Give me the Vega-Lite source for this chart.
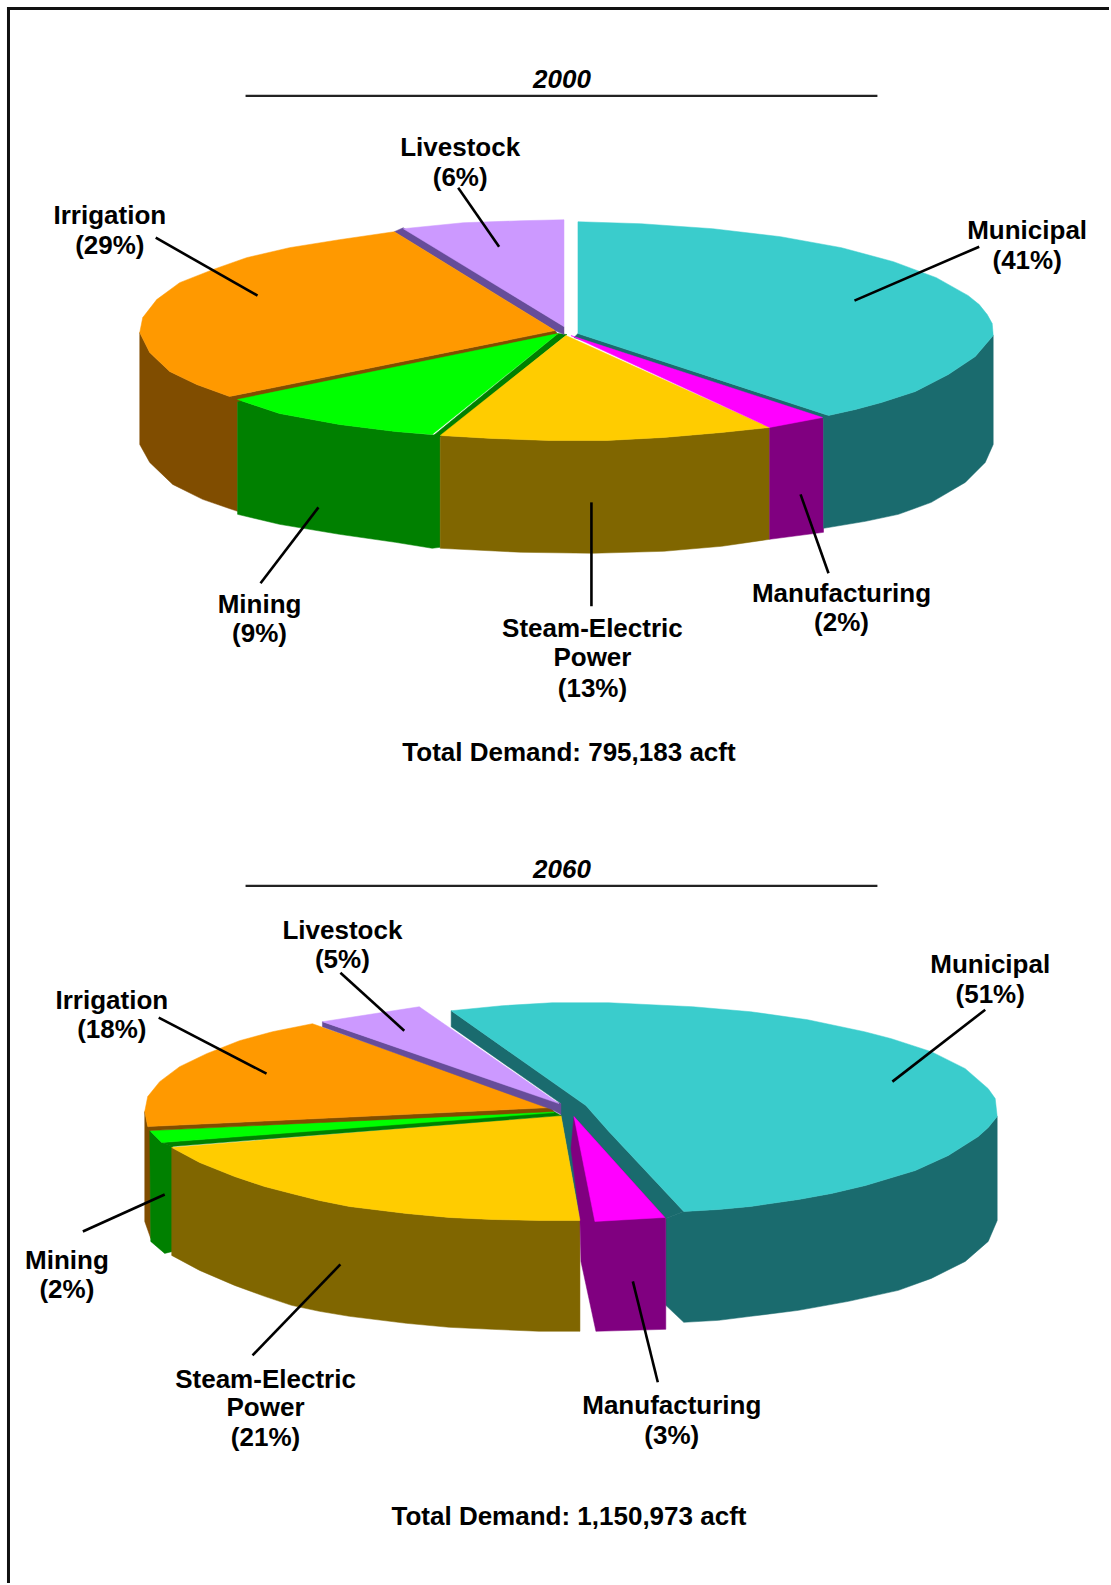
{"$schema":"https://vega.github.io/schema/vega-lite/v6.json","width":1111,"height":1585,"padding":0,"autosize":{"type":"fit","contains":"padding"},"background":"white","view":{"stroke":null},
"datasets":{
"faces":[
{"year":2000,"part":"Irrigation side","x":140,"y":333},{"year":2000,"part":"Irrigation side","x":150,"y":353},{"year":2000,"part":"Irrigation side","x":170,"y":372},{"year":2000,"part":"Irrigation side","x":197,"y":385},{"year":2000,"part":"Irrigation side","x":230,"y":397},{"year":2000,"part":"Irrigation side","x":238,"y":400},{"year":2000,"part":"Irrigation side","x":238,"y":512},{"year":2000,"part":"Irrigation side","x":235,"y":511},{"year":2000,"part":"Irrigation side","x":203,"y":500},{"year":2000,"part":"Irrigation side","x":173,"y":485},{"year":2000,"part":"Irrigation side","x":150,"y":463},{"year":2000,"part":"Irrigation side","x":140,"y":445},
{"year":2000,"part":"Mining side","x":238,"y":400},{"year":2000,"part":"Mining side","x":280,"y":414},{"year":2000,"part":"Mining side","x":340,"y":425},{"year":2000,"part":"Mining side","x":396,"y":432},{"year":2000,"part":"Mining side","x":441,"y":436},{"year":2000,"part":"Mining side","x":441,"y":548},{"year":2000,"part":"Mining side","x":433,"y":549},{"year":2000,"part":"Mining side","x":396,"y":543},{"year":2000,"part":"Mining side","x":340,"y":535},{"year":2000,"part":"Mining side","x":280,"y":525},{"year":2000,"part":"Mining side","x":238,"y":515},
{"year":2000,"part":"Steam side","x":441,"y":436},{"year":2000,"part":"Steam side","x":493,"y":439},{"year":2000,"part":"Steam side","x":550,"y":441},{"year":2000,"part":"Steam side","x":608,"y":441},{"year":2000,"part":"Steam side","x":665,"y":438},{"year":2000,"part":"Steam side","x":723,"y":433},{"year":2000,"part":"Steam side","x":771,"y":428},{"year":2000,"part":"Steam side","x":771,"y":540},{"year":2000,"part":"Steam side","x":723,"y":547},{"year":2000,"part":"Steam side","x":665,"y":552},{"year":2000,"part":"Steam side","x":594,"y":554},{"year":2000,"part":"Steam side","x":522,"y":553},{"year":2000,"part":"Steam side","x":441,"y":549},
{"year":2000,"part":"Manufacturing side","x":771,"y":427},{"year":2000,"part":"Manufacturing side","x":825,"y":417},{"year":2000,"part":"Manufacturing side","x":825,"y":533},{"year":2000,"part":"Manufacturing side","x":771,"y":540},
{"year":2000,"part":"Municipal side","x":995,"y":336},{"year":2000,"part":"Municipal side","x":977,"y":357},{"year":2000,"part":"Municipal side","x":950,"y":375},{"year":2000,"part":"Municipal side","x":917,"y":392},{"year":2000,"part":"Municipal side","x":883,"y":403},{"year":2000,"part":"Municipal side","x":857,"y":410},{"year":2000,"part":"Municipal side","x":830,"y":416},{"year":2000,"part":"Municipal side","x":825,"y":417},{"year":2000,"part":"Municipal side","x":825,"y":529},{"year":2000,"part":"Municipal side","x":867,"y":522},{"year":2000,"part":"Municipal side","x":900,"y":515},{"year":2000,"part":"Municipal side","x":933,"y":503},{"year":2000,"part":"Municipal side","x":967,"y":483},{"year":2000,"part":"Municipal side","x":987,"y":463},{"year":2000,"part":"Municipal side","x":995,"y":445},
{"year":2000,"part":"Municipal wall","x":579,"y":334},{"year":2000,"part":"Municipal wall","x":830,"y":416},{"year":2000,"part":"Municipal wall","x":825,"y":419},{"year":2000,"part":"Municipal wall","x":575,"y":338},
{"year":2000,"part":"Mining wall","x":568,"y":335},{"year":2000,"part":"Mining wall","x":441,"y":437},{"year":2000,"part":"Mining wall","x":433,"y":437},{"year":2000,"part":"Mining wall","x":559,"y":334},
{"year":2000,"part":"Irrigation wall","x":556,"y":331},{"year":2000,"part":"Irrigation wall","x":230,"y":397},{"year":2000,"part":"Irrigation wall","x":238,"y":402},{"year":2000,"part":"Irrigation wall","x":559,"y":335},
{"year":2000,"part":"Livestock wall","x":395,"y":232},{"year":2000,"part":"Livestock wall","x":404,"y":228},{"year":2000,"part":"Livestock wall","x":565,"y":327},{"year":2000,"part":"Livestock wall","x":565,"y":335},{"year":2000,"part":"Livestock wall","x":556,"y":331},
{"year":2000,"part":"Municipal top","x":579,"y":222},{"year":2000,"part":"Municipal top","x":642,"y":224},{"year":2000,"part":"Municipal top","x":714,"y":229},{"year":2000,"part":"Municipal top","x":782,"y":237},{"year":2000,"part":"Municipal top","x":843,"y":248},{"year":2000,"part":"Municipal top","x":895,"y":262},{"year":2000,"part":"Municipal top","x":938,"y":278},{"year":2000,"part":"Municipal top","x":970,"y":296},{"year":2000,"part":"Municipal top","x":981,"y":305},{"year":2000,"part":"Municipal top","x":989,"y":315},{"year":2000,"part":"Municipal top","x":994,"y":324},{"year":2000,"part":"Municipal top","x":995,"y":336},{"year":2000,"part":"Municipal top","x":977,"y":357},{"year":2000,"part":"Municipal top","x":950,"y":375},{"year":2000,"part":"Municipal top","x":917,"y":392},{"year":2000,"part":"Municipal top","x":883,"y":403},{"year":2000,"part":"Municipal top","x":857,"y":410},{"year":2000,"part":"Municipal top","x":830,"y":416},{"year":2000,"part":"Municipal top","x":579,"y":334},
{"year":2000,"part":"Steam top","x":567,"y":336},{"year":2000,"part":"Steam top","x":771,"y":428},{"year":2000,"part":"Steam top","x":723,"y":433},{"year":2000,"part":"Steam top","x":665,"y":438},{"year":2000,"part":"Steam top","x":608,"y":441},{"year":2000,"part":"Steam top","x":550,"y":441},{"year":2000,"part":"Steam top","x":493,"y":439},{"year":2000,"part":"Steam top","x":441,"y":436},
{"year":2000,"part":"Manufacturing top","x":572,"y":336},{"year":2000,"part":"Manufacturing top","x":824,"y":418},{"year":2000,"part":"Manufacturing top","x":771,"y":428},
{"year":2000,"part":"Mining top","x":559,"y":334},{"year":2000,"part":"Mining top","x":433,"y":435},{"year":2000,"part":"Mining top","x":396,"y":432},{"year":2000,"part":"Mining top","x":340,"y":425},{"year":2000,"part":"Mining top","x":280,"y":414},{"year":2000,"part":"Mining top","x":238,"y":400},
{"year":2000,"part":"Irrigation top","x":556,"y":331},{"year":2000,"part":"Irrigation top","x":230,"y":397},{"year":2000,"part":"Irrigation top","x":197,"y":385},{"year":2000,"part":"Irrigation top","x":170,"y":372},{"year":2000,"part":"Irrigation top","x":150,"y":353},{"year":2000,"part":"Irrigation top","x":140,"y":333},{"year":2000,"part":"Irrigation top","x":143,"y":318},{"year":2000,"part":"Irrigation top","x":157,"y":300},{"year":2000,"part":"Irrigation top","x":180,"y":283},{"year":2000,"part":"Irrigation top","x":213,"y":270},{"year":2000,"part":"Irrigation top","x":247,"y":258},{"year":2000,"part":"Irrigation top","x":290,"y":248},{"year":2000,"part":"Irrigation top","x":340,"y":240},{"year":2000,"part":"Irrigation top","x":395,"y":232},
{"year":2000,"part":"Livestock top","x":565,"y":327},{"year":2000,"part":"Livestock top","x":565,"y":220},{"year":2000,"part":"Livestock top","x":522,"y":221},{"year":2000,"part":"Livestock top","x":464,"y":223},{"year":2000,"part":"Livestock top","x":404,"y":229},
{"year":2060,"part":"Irrigation side","x":145,"y":1113},{"year":2060,"part":"Irrigation side","x":148,"y":1128},{"year":2060,"part":"Irrigation side","x":151,"y":1132},{"year":2060,"part":"Irrigation side","x":151,"y":1240},{"year":2060,"part":"Irrigation side","x":145,"y":1223},
{"year":2060,"part":"Mining side","x":150,"y":1132},{"year":2060,"part":"Mining side","x":162,"y":1144},{"year":2060,"part":"Mining side","x":173,"y":1148},{"year":2060,"part":"Mining side","x":173,"y":1253},{"year":2060,"part":"Mining side","x":165,"y":1255},{"year":2060,"part":"Mining side","x":151,"y":1243},
{"year":2060,"part":"Steam side","x":172,"y":1149},{"year":2060,"part":"Steam side","x":200,"y":1164},{"year":2060,"part":"Steam side","x":235,"y":1178},{"year":2060,"part":"Steam side","x":265,"y":1188},{"year":2060,"part":"Steam side","x":292,"y":1195},{"year":2060,"part":"Steam side","x":320,"y":1202},{"year":2060,"part":"Steam side","x":350,"y":1208},{"year":2060,"part":"Steam side","x":407,"y":1215},{"year":2060,"part":"Steam side","x":450,"y":1219},{"year":2060,"part":"Steam side","x":493,"y":1221},{"year":2060,"part":"Steam side","x":540,"y":1222},{"year":2060,"part":"Steam side","x":581,"y":1222},{"year":2060,"part":"Steam side","x":581,"y":1333},{"year":2060,"part":"Steam side","x":540,"y":1333},{"year":2060,"part":"Steam side","x":493,"y":1331},{"year":2060,"part":"Steam side","x":450,"y":1329},{"year":2060,"part":"Steam side","x":407,"y":1325},{"year":2060,"part":"Steam side","x":350,"y":1318},{"year":2060,"part":"Steam side","x":320,"y":1313},{"year":2060,"part":"Steam side","x":292,"y":1307},{"year":2060,"part":"Steam side","x":265,"y":1298},{"year":2060,"part":"Steam side","x":235,"y":1287},{"year":2060,"part":"Steam side","x":200,"y":1272},{"year":2060,"part":"Steam side","x":172,"y":1257},
{"year":2060,"part":"Municipal side","x":999,"y":1118},{"year":2060,"part":"Municipal side","x":990,"y":1129},{"year":2060,"part":"Municipal side","x":980,"y":1138},{"year":2060,"part":"Municipal side","x":950,"y":1157},{"year":2060,"part":"Municipal side","x":917,"y":1172},{"year":2060,"part":"Municipal side","x":867,"y":1187},{"year":2060,"part":"Municipal side","x":833,"y":1195},{"year":2060,"part":"Municipal side","x":800,"y":1201},{"year":2060,"part":"Municipal side","x":752,"y":1208},{"year":2060,"part":"Municipal side","x":720,"y":1211},{"year":2060,"part":"Municipal side","x":685,"y":1213},{"year":2060,"part":"Municipal side","x":667,"y":1220},{"year":2060,"part":"Municipal side","x":667,"y":1307},{"year":2060,"part":"Municipal side","x":685,"y":1324},{"year":2060,"part":"Municipal side","x":720,"y":1322},{"year":2060,"part":"Municipal side","x":752,"y":1318},{"year":2060,"part":"Municipal side","x":800,"y":1312},{"year":2060,"part":"Municipal side","x":850,"y":1303},{"year":2060,"part":"Municipal side","x":900,"y":1292},{"year":2060,"part":"Municipal side","x":933,"y":1280},{"year":2060,"part":"Municipal side","x":967,"y":1263},{"year":2060,"part":"Municipal side","x":990,"y":1243},{"year":2060,"part":"Municipal side","x":999,"y":1222},
{"year":2060,"part":"Municipal wall","x":452,"y":1012},{"year":2060,"part":"Municipal wall","x":587,"y":1107},{"year":2060,"part":"Municipal wall","x":610,"y":1133},{"year":2060,"part":"Municipal wall","x":685,"y":1213},{"year":2060,"part":"Municipal wall","x":667,"y":1220},{"year":2060,"part":"Municipal wall","x":575,"y":1120},{"year":2060,"part":"Municipal wall","x":581,"y":1222},{"year":2060,"part":"Municipal wall","x":562,"y":1117},{"year":2060,"part":"Municipal wall","x":562,"y":1105},{"year":2060,"part":"Municipal wall","x":452,"y":1028},
{"year":2060,"part":"Manufacturing side","x":575,"y":1118},{"year":2060,"part":"Manufacturing side","x":667,"y":1220},{"year":2060,"part":"Manufacturing side","x":667,"y":1331},{"year":2060,"part":"Manufacturing side","x":597,"y":1333},{"year":2060,"part":"Manufacturing side","x":582,"y":1263},{"year":2060,"part":"Manufacturing side","x":581,"y":1222},{"year":2060,"part":"Manufacturing side","x":572,"y":1150},
{"year":2060,"part":"Manufacturing top","x":575,"y":1118},{"year":2060,"part":"Manufacturing top","x":666,"y":1219},{"year":2060,"part":"Manufacturing top","x":596,"y":1223},
{"year":2060,"part":"Steam top","x":562,"y":1117},{"year":2060,"part":"Steam top","x":581,"y":1222},{"year":2060,"part":"Steam top","x":540,"y":1222},{"year":2060,"part":"Steam top","x":493,"y":1221},{"year":2060,"part":"Steam top","x":450,"y":1219},{"year":2060,"part":"Steam top","x":407,"y":1215},{"year":2060,"part":"Steam top","x":350,"y":1208},{"year":2060,"part":"Steam top","x":320,"y":1202},{"year":2060,"part":"Steam top","x":292,"y":1195},{"year":2060,"part":"Steam top","x":265,"y":1188},{"year":2060,"part":"Steam top","x":235,"y":1178},{"year":2060,"part":"Steam top","x":200,"y":1164},{"year":2060,"part":"Steam top","x":172,"y":1149},
{"year":2060,"part":"Mining wall","x":162,"y":1144},{"year":2060,"part":"Mining wall","x":172,"y":1148},{"year":2060,"part":"Mining wall","x":562,"y":1117},{"year":2060,"part":"Mining wall","x":555,"y":1113},
{"year":2060,"part":"Mining top","x":150,"y":1132},{"year":2060,"part":"Mining top","x":162,"y":1144},{"year":2060,"part":"Mining top","x":555,"y":1114},{"year":2060,"part":"Mining top","x":553,"y":1112},
{"year":2060,"part":"Irrigation wall","x":148,"y":1128},{"year":2060,"part":"Irrigation wall","x":150,"y":1132},{"year":2060,"part":"Irrigation wall","x":555,"y":1113},{"year":2060,"part":"Irrigation wall","x":552,"y":1109},
{"year":2060,"part":"Irrigation top","x":552,"y":1109},{"year":2060,"part":"Irrigation top","x":148,"y":1128},{"year":2060,"part":"Irrigation top","x":145,"y":1113},{"year":2060,"part":"Irrigation top","x":148,"y":1098},{"year":2060,"part":"Irrigation top","x":160,"y":1083},{"year":2060,"part":"Irrigation top","x":180,"y":1068},{"year":2060,"part":"Irrigation top","x":207,"y":1055},{"year":2060,"part":"Irrigation top","x":240,"y":1042},{"year":2060,"part":"Irrigation top","x":273,"y":1033},{"year":2060,"part":"Irrigation top","x":313,"y":1025},
{"year":2060,"part":"Livestock wall","x":323,"y":1023},{"year":2060,"part":"Livestock wall","x":323,"y":1028},{"year":2060,"part":"Livestock wall","x":553,"y":1111},{"year":2060,"part":"Livestock wall","x":562,"y":1116},{"year":2060,"part":"Livestock wall","x":562,"y":1105},
{"year":2060,"part":"Livestock top","x":323,"y":1023},{"year":2060,"part":"Livestock top","x":420,"y":1008},{"year":2060,"part":"Livestock top","x":560,"y":1105},
{"year":2060,"part":"Municipal top","x":452,"y":1012},{"year":2060,"part":"Municipal top","x":503,"y":1007},{"year":2060,"part":"Municipal top","x":553,"y":1004},{"year":2060,"part":"Municipal top","x":610,"y":1004},{"year":2060,"part":"Municipal top","x":694,"y":1008},{"year":2060,"part":"Municipal top","x":752,"y":1013},{"year":2060,"part":"Municipal top","x":809,"y":1021},{"year":2060,"part":"Municipal top","x":866,"y":1033},{"year":2060,"part":"Municipal top","x":893,"y":1040},{"year":2060,"part":"Municipal top","x":933,"y":1053},{"year":2060,"part":"Municipal top","x":967,"y":1070},{"year":2060,"part":"Municipal top","x":990,"y":1090},{"year":2060,"part":"Municipal top","x":997,"y":1100},{"year":2060,"part":"Municipal top","x":999,"y":1118},{"year":2060,"part":"Municipal top","x":990,"y":1129},{"year":2060,"part":"Municipal top","x":980,"y":1138},{"year":2060,"part":"Municipal top","x":950,"y":1157},{"year":2060,"part":"Municipal top","x":917,"y":1172},{"year":2060,"part":"Municipal top","x":867,"y":1187},{"year":2060,"part":"Municipal top","x":833,"y":1195},{"year":2060,"part":"Municipal top","x":800,"y":1201},{"year":2060,"part":"Municipal top","x":752,"y":1208},{"year":2060,"part":"Municipal top","x":720,"y":1211},{"year":2060,"part":"Municipal top","x":685,"y":1213},{"year":2060,"part":"Municipal top","x":610,"y":1133},{"year":2060,"part":"Municipal top","x":587,"y":1107}
],
"rules":[
{"kind":"frame","x":8.5,"y":7,"x2":8.5,"y2":1585},{"kind":"frame","x":7,"y":8.5,"x2":1111,"y2":8.5},
{"kind":"title","x":246,"y":96,"x2":879,"y2":96},{"kind":"title","x":246,"y":887,"x2":879,"y2":887},
{"kind":"leader","x":459,"y":188,"x2":500,"y2":247},{"kind":"leader","x":156,"y":238,"x2":258,"y2":296},{"kind":"leader","x":981,"y":247,"x2":856,"y2":301},{"kind":"leader","x":319,"y":508,"x2":261,"y2":584},{"kind":"leader","x":592.5,"y":503,"x2":592.5,"y2":607},{"kind":"leader","x":802,"y":495,"x2":830,"y2":574},
{"kind":"leader","x":341,"y":974,"x2":405,"y2":1032},{"kind":"leader","x":159,"y":1019,"x2":267,"y2":1075},{"kind":"leader","x":987,"y":1011,"x2":894,"y2":1083},{"kind":"leader","x":165,"y":1196,"x2":83,"y2":1233},{"kind":"leader","x":341,"y":1266,"x2":253,"y2":1357},{"kind":"leader","x":634,"y":1283,"x2":659,"y2":1384}
],
"labels":[
{"text":"Livestock","x":460,"y":147.5},{"text":"(6%)","x":460,"y":177},
{"text":"Irrigation","x":109,"y":215},{"text":"(29%)","x":109,"y":245},
{"text":"Municipal","x":1028,"y":230.5},{"text":"(41%)","x":1028,"y":260},
{"text":"Manufacturing","x":842,"y":593.5},{"text":"(2%)","x":842,"y":623},
{"text":"Mining","x":259,"y":604.5},{"text":"(9%)","x":259,"y":634},
{"text":"Steam-Electric","x":592.5,"y":629},{"text":"Power","x":592.5,"y":658},{"text":"(13%)","x":592.5,"y":688.5},
{"text":"Total Demand: 795,183 acft","x":569,"y":753},
{"text":"Livestock","x":342,"y":931},{"text":"(5%)","x":342,"y":960.5},
{"text":"Irrigation","x":111,"y":1001},{"text":"(18%)","x":111,"y":1030},
{"text":"Municipal","x":991,"y":965.5},{"text":"(51%)","x":991,"y":995},
{"text":"Mining","x":66,"y":1262},{"text":"(2%)","x":66,"y":1291},
{"text":"Steam-Electric","x":265,"y":1381},{"text":"Power","x":265,"y":1409},{"text":"(21%)","x":265,"y":1439},
{"text":"Manufacturing","x":672,"y":1407},{"text":"(3%)","x":672,"y":1437},
{"text":"Total Demand: 1,150,973 acft","x":569,"y":1517.5}
],
"titles":[{"text":"2000","x":562,"y":79},{"text":"2060","x":562,"y":870.5}]
},
"layer":[
{"data":{"name":"faces"},"mark":{"type":"line","interpolate":"linear-closed","order":null,"strokeWidth":0.5},
"encoding":{"x":{"field":"x","type":"quantitative","scale":{"domain":[0,1111],"nice":false,"zero":false},"axis":null},
"y":{"field":"y","type":"quantitative","scale":{"domain":[1585,0],"nice":false,"zero":false},"axis":null},
"detail":{"field":"year"},
"fill":{"field":"part","type":"nominal","legend":null,"scale":{"domain":["Municipal top","Municipal side","Municipal wall","Manufacturing top","Manufacturing side","Steam top","Steam side","Mining top","Mining side","Mining wall","Irrigation top","Irrigation side","Irrigation wall","Livestock top","Livestock wall"],"range":["#3ACCCC","#1A6B6E","#1A6B6E","#FF00FF","#800080","#FFCC00","#806600","#00FF00","#008000","#008000","#FF9900","#804D00","#804D00","#CC99FF","#664D99"]}},
"stroke":{"field":"part","type":"nominal","legend":null,"scale":{"domain":["Municipal top","Municipal side","Municipal wall","Manufacturing top","Manufacturing side","Steam top","Steam side","Mining top","Mining side","Mining wall","Irrigation top","Irrigation side","Irrigation wall","Livestock top","Livestock wall"],"range":["#3ACCCC","#1A6B6E","#1A6B6E","#FF00FF","#800080","#FFCC00","#806600","#00FF00","#008000","#008000","#FF9900","#804D00","#804D00","#CC99FF","#664D99"]}}}},
{"data":{"name":"rules"},"transform":[{"filter":"datum.kind=='frame'"}],"mark":{"type":"rule","color":"#111111","strokeWidth":3},"encoding":{"x":{"field":"x","type":"quantitative"},"y":{"field":"y","type":"quantitative"},"x2":{"field":"x2"},"y2":{"field":"y2"}}},
{"data":{"name":"rules"},"transform":[{"filter":"datum.kind=='title'"}],"mark":{"type":"rule","color":"#222222","strokeWidth":2.2},"encoding":{"x":{"field":"x","type":"quantitative"},"y":{"field":"y","type":"quantitative"},"x2":{"field":"x2"},"y2":{"field":"y2"}}},
{"data":{"name":"rules"},"transform":[{"filter":"datum.kind=='leader'"}],"mark":{"type":"rule","color":"#000000","strokeWidth":2.6},"encoding":{"x":{"field":"x","type":"quantitative"},"y":{"field":"y","type":"quantitative"},"x2":{"field":"x2"},"y2":{"field":"y2"}}},
{"data":{"name":"labels"},"mark":{"type":"text","font":"Liberation Sans","fontWeight":"bold","fontSize":26,"color":"#000000","align":"center","baseline":"middle","dx":1,"dy":1},"encoding":{"x":{"field":"x","type":"quantitative"},"y":{"field":"y","type":"quantitative"},"text":{"field":"text"}}},
{"data":{"name":"titles"},"mark":{"type":"text","font":"Liberation Sans","fontWeight":"bold","fontStyle":"italic","fontSize":26,"color":"#000000","align":"center","baseline":"middle","dx":1,"dy":1},"encoding":{"x":{"field":"x","type":"quantitative"},"y":{"field":"y","type":"quantitative"},"text":{"field":"text"}}}
],
"resolve":{"scale":{"fill":"independent","stroke":"independent"}}}
